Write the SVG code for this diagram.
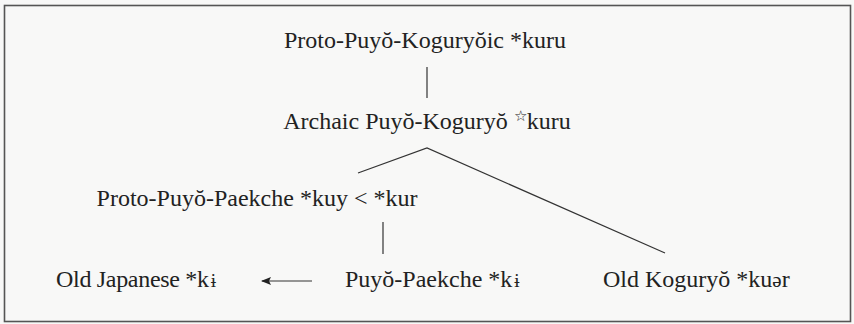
<svg xmlns="http://www.w3.org/2000/svg" width="854" height="324" viewBox="0 0 854 324">
<style>
.t{font-family:'Liberation Serif','Times New Roman','DejaVu Serif',serif;font-size:24px;fill:#222;}
.ln{stroke:#333;stroke-width:1.2;fill:none;}
</style>
<defs>
<marker id="ah" viewBox="0 0 10 8" refX="9" refY="4" markerWidth="10" markerHeight="8" markerUnits="userSpaceOnUse" orient="auto">
<path d="M10,4 L0,0 L2,4 L0,8 Z" fill="#222"/>
</marker>
</defs>
<rect x="0" y="0" width="854" height="324" fill="#f8f8f7"/>
<rect x="4.5" y="5.5" width="846" height="316" fill="none" stroke="#555" stroke-width="1.6"/>
<g id="connectors">
<line class="ln" x1="427" y1="67" x2="427" y2="98"/>
<polyline class="ln" points="358,173 427,148 665,253"/>
<line class="ln" x1="383" y1="222" x2="383" y2="254"/>
<line class="ln" x1="312" y1="281" x2="262" y2="281" marker-end="url(#ah)"/>
</g>
<g id="n-proto-pk"><text class="t" x="425" y="48" text-anchor="middle">Proto-Puyŏ-Koguryŏic *kuru</text></g>
<g id="n-archaic"><text class="t" x="427" y="129" text-anchor="middle">Archaic Puyŏ-Koguryŏ <tspan font-size="15" dy="-8">☆</tspan><tspan dy="8">kuru</tspan></text></g>
<g id="n-proto-pp"><text class="t" x="257" y="206" text-anchor="middle">Proto-Puyŏ-Paekche *kuy &lt; *kur</text></g>
<g id="n-oj"><text class="t" x="56" y="287" textLength="160" lengthAdjust="spacing">Old Japanese *k<tspan dx="2" font-size="19">ɨ</tspan></text></g>
<g id="n-pp"><text class="t" x="345" y="287">Puyŏ-Paekche *k<tspan dx="2" font-size="19">ɨ</tspan></text></g>
<g id="n-ok"><text class="t" x="603" y="287">Old Koguryŏ *ku<tspan font-size="21">ə</tspan>r</text></g>
</svg>
